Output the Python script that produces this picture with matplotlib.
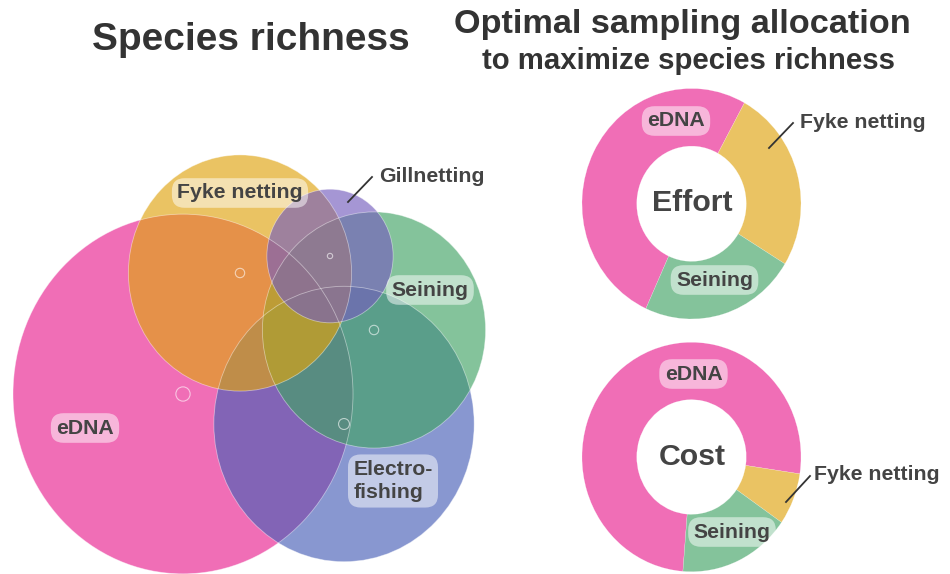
import numpy as np
import matplotlib.pyplot as plt
from matplotlib.patches import Ellipse

plt.rcParams['font.family'] = ['Liberation Sans', 'DejaVu Sans']

W, H = 950, 574
STRETCH = 1.058   # the whole picture is a little taller than wide

# species richness by method (circle area ~ richness)
methods = ['eDNA', 'Electrofishing', 'Seining', 'Fyke netting', 'Gillnetting']
richness = [58, 34, 25, 25, 8]
venn_colors = ['#e82090', '#485fb7', '#42a365', '#e0a40f', '#755ebd']
# layout of the circle centres (pixels)
venn_x = [183, 344, 374, 240, 330]
venn_y = [394, 424, 330, 273, 256]

# optimal allocation (% of effort / cost)
alloc_methods = ['eDNA', 'Fyke netting', 'Seining']
effort = [51.2, 25.7, 23.1]
cost = [76.1, 7.3, 16.6]
alloc_colors = ['#e82090', '#e0a40f', '#42a365']

txt = '#444444'
box = dict(boxstyle='round,pad=0.25,rounding_size=0.6', fc='white', ec='none', alpha=0.5)

fig = plt.figure(figsize=(9.5, 5.74), dpi=100)

# ---- venn diagram ----
ax = fig.add_axes([0, 0, 1, 1])
ax.set_xlim(0, W)
ax.set_ylim(H, 0)
ax.axis('off')

scale = 170 / np.sqrt(richness[0])
for n, c, x, y in zip(richness, venn_colors, venn_x, venn_y):
    r = scale * np.sqrt(n)
    ax.add_patch(Ellipse((x, y), 2 * r, 2 * r * STRETCH, fc=c, ec='none', alpha=0.65))
for n, x, y in zip(richness, venn_x, venn_y):
    r = scale * np.sqrt(n)
    ax.add_patch(Ellipse((x, y), 2 * r, 2 * r * STRETCH, fc='none', ec='white', lw=0.6, alpha=0.45))
    m = r * 0.042
    ax.add_patch(Ellipse((x, y), 2 * m, 2 * m, fc='none', ec='white', lw=0.8, alpha=0.6))


# ---- donuts ----
def donut(box_px, values, start):
    l, t, r, b = box_px
    a = fig.add_axes([l / W, 1 - b / H, (r - l) / W, (b - t) / H])
    a.pie(values, colors=alloc_colors, startangle=start, counterclock=False,
          radius=1, wedgeprops=dict(width=0.5, edgecolor='white', linewidth=0.2, alpha=0.65))
    a.set_aspect('auto')
    a.set_xlim(-1, 1)
    a.set_ylim(-1, 1)
    a.axis('off')
    return a


donut((582, 88.5, 801, 319), effort, -114.6)
donut((582, 342.3, 801, 571.7), cost, -94.5)

# ---- texts on top ----
ov = fig.add_axes([0, 0, 1, 1])
ov.set_xlim(0, W)
ov.set_ylim(H, 0)
ov.axis('off')

ov.text(250.5, 50, 'Species richness', ha='center', va='baseline',
        fontsize=28, fontweight='bold', color='#333333')
ov.text(682.5, 33, 'Optimal sampling allocation', ha='center', va='baseline',
        fontsize=24.7, fontweight='bold', color='#333333')
ov.text(689, 69, 'to maximize species richness', ha='center', va='baseline',
        fontsize=21.2, fontweight='bold', color='#333333')

lab = dict(fontsize=15.3, fontweight='bold', color=txt, va='center')
ov.text(240, 193, 'Fyke netting', ha='center', bbox=box, **lab)
ov.text(430, 290, 'Seining', ha='center', bbox=box, **lab)
ov.text(85, 428, 'eDNA', ha='center', bbox=box, **lab)
ov.text(393, 481, 'Electro-\nfishing', ha='center', multialignment='left',
        linespacing=1.3, bbox=box, **lab)
ov.text(379, 176, 'Gillnetting', ha='left', **lab)
ov.plot([348, 372], [202, 177], color='#333333', lw=1.3)

ov.text(676, 121, 'eDNA', ha='center', bbox=box, **lab)
ov.text(714.5, 280, 'Seining', ha='center', bbox=box, **lab)
ov.text(800, 122, 'Fyke netting', ha='left', **lab)
ov.plot([769, 793], [148, 123], color='#333333', lw=1.3)
ov.text(692, 203, 'Effort', ha='center', va='center', fontsize=21.8,
        fontweight='bold', color=txt)

ov.text(693.5, 374, 'eDNA', ha='center', bbox=box, **lab)
ov.text(732, 532, 'Seining', ha='center', bbox=box, **lab)
ov.text(814, 474, 'Fyke netting', ha='left', **lab)
ov.plot([786, 810], [502, 476], color='#333333', lw=1.3)
ov.text(692, 457, 'Cost', ha='center', va='center', fontsize=21.8,
        fontweight='bold', color=txt)

fig.savefig('out.png', dpi=100)
